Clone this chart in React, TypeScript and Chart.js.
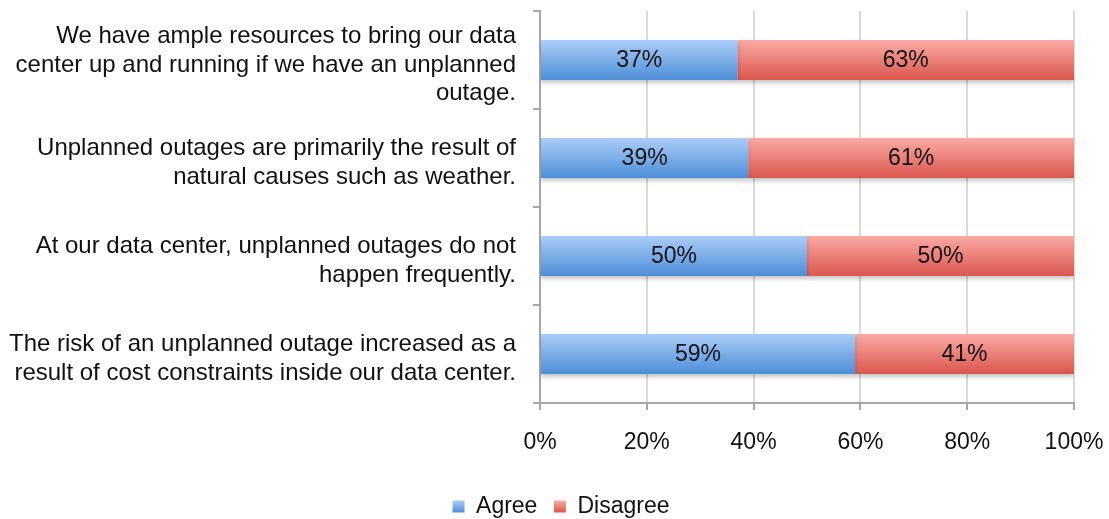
import React, { useEffect, useRef } from "react";
import { Chart, registerables } from "chart.js";

Chart.register(...registerables);

const categories: string[][] = [
  ["We have ample resources to bring our data", "center up and running if we have an unplanned", "outage."],
  ["Unplanned outages are primarily the result of", "natural causes such as weather."],
  ["At our data center, unplanned outages do not", "happen frequently."],
  ["The risk of an unplanned outage increased as a", "result of cost constraints inside our data center."],
];
const agree: number[] = [37, 39, 50, 59];
const disagree: number[] = [63, 61, 50, 41];
const xTicks: number[] = [0, 20, 40, 60, 80, 100];

const FONT = "'Liberation Sans', Arial, Helvetica, sans-serif";
const BLUE_TOP = "#abcdf8";
const BLUE_BOT = "#4d8ed7";
const RED_TOP = "#fbaaa5";
const RED_BOT = "#d9564c";
const LEGEND_SHIFT = 24;

function barGradient(top: string, bot: string, solid: string) {
  return (c: any) => {
    const chart = c.chart;
    const y = chart.scales && chart.scales.y;
    if (!y || c.dataIndex == null || !chart.chartArea) return solid;
    const center = y.getPixelForValue(c.dataIndex);
    const half = (y.height / categories.length) * 0.41 / 2;
    const g = chart.ctx.createLinearGradient(0, center - half, 0, center + half);
    g.addColorStop(0, top);
    g.addColorStop(1, bot);
    return g;
  };
}

const barDecor = {
  id: "barDecor",
  afterLayout(chart: any) {
    const legend = chart.legend;
    if (!legend) return;
    legend.left += LEGEND_SHIFT;
    legend.right += LEGEND_SHIFT;
  },
  beforeDraw(chart: any) {
    const legend = chart.legend;
    if (!legend || !legend.legendItems || !legend.legendHitBoxes) return;
    const cols = [[BLUE_TOP, BLUE_BOT], [RED_TOP, RED_BOT]];
    legend.legendItems.forEach((it: any, i: number) => {
      const hb = legend.legendHitBoxes[i];
      if (!hb) return;
      const g = chart.ctx.createLinearGradient(0, hb.top + (hb.height - 12) / 2, 0, hb.top + (hb.height + 12) / 2);
      g.addColorStop(0, cols[i][0]);
      g.addColorStop(1, cols[i][1]);
      it.fillStyle = g;
    });
  },
  beforeDatasetsDraw(chart: any) {
    const ctx = chart.ctx;
    ctx.save();
    ctx.shadowColor = "rgba(0,0,0,0.22)";
    ctx.shadowBlur = 4;
    ctx.shadowOffsetY = 3;
  },
  afterDatasetsDraw(chart: any) {
    const ctx = chart.ctx;
    ctx.restore();
    ctx.save();
    ctx.font = `23px ${FONT}`;
    ctx.fillStyle = "#111";
    ctx.textAlign = "center";
    ctx.textBaseline = "middle";
    chart.data.datasets.forEach((ds: any, di: number) => {
      const meta = chart.getDatasetMeta(di);
      meta.data.forEach((bar: any, i: number) => {
        const p = bar.getCenterPoint();
        ctx.fillText(ds.data[i] + "%", p.x, p.y + 1);
      });
    });
    ctx.restore();
  },
};

export default function App() {
  const ref = useRef<HTMLCanvasElement>(null);
  useEffect(() => {
    if (!ref.current) return;
    const chart = new Chart(ref.current, {
      type: "bar",
      data: {
        labels: categories,
        datasets: [
          {
            label: "Agree",
            data: agree,
            backgroundColor: barGradient(BLUE_TOP, BLUE_BOT, "#7aacea"),
            borderWidth: 0,
            barPercentage: 0.41,
            categoryPercentage: 1,
          },
          {
            label: "Disagree",
            data: disagree,
            backgroundColor: barGradient(RED_TOP, RED_BOT, "#ee7f78"),
            borderWidth: 0,
            barPercentage: 0.41,
            categoryPercentage: 1,
          },
        ],
      },
      options: {
        indexAxis: "y",
        responsive: false,
        animation: false,
        layout: { padding: { top: 11, right: 35, left: 0, bottom: -9 } },
        scales: {
          x: {
            stacked: true,
            min: 0,
            max: 100,
            afterBuildTicks: (s: any) => {
              s.ticks = xTicks.map((v) => ({ value: v }));
            },
            afterFit: (s: any) => {
              s.height = 75.5;
              s.paddingLeft = 0;
              s.paddingRight = 0;
            },
            ticks: {
              callback: (v: any) => v + "%",
              font: { family: FONT, size: 23 },
              color: "#111",
              padding: 19,
              maxRotation: 0,
            },
            grid: {
              color: "#d9d9d9",
              lineWidth: 2,
              tickColor: "#a6a6a6",
              tickLength: 7,
            },
            border: { color: "#a6a6a6", width: 2 },
          },
          y: {
            stacked: true,
            afterFit: (s: any) => {
              s.width = 540;
              s.paddingTop = 0;
              s.paddingBottom = 0;
            },
            ticks: {
              font: { family: FONT, size: 24, lineHeight: 1.2 },
              color: "#111",
              padding: 17,
              labelOffset: 5,
            },
            grid: {
              offset: true,
              drawOnChartArea: false,
              color: "#a6a6a6",
              lineWidth: 2,
              tickLength: 7,
            },
            border: { color: "#a6a6a6", width: 2 },
          },
        },
        plugins: {
          legend: {
            position: "bottom",
            labels: {
              font: { family: FONT, size: 23 },
              color: "#111",
              boxWidth: 12,
              boxHeight: 12,
              padding: 16.5,
            },
          },
          tooltip: { enabled: false },
        },
      },
      plugins: [barDecor],
    } as any);
    return () => chart.destroy();
  }, []);
  return (
    <div style={{ position: "absolute", left: 0, top: 0, width: 1109, height: 519, background: "#fff" }}>
      <canvas ref={ref} width={1109} height={519} />
    </div>
  );
}
